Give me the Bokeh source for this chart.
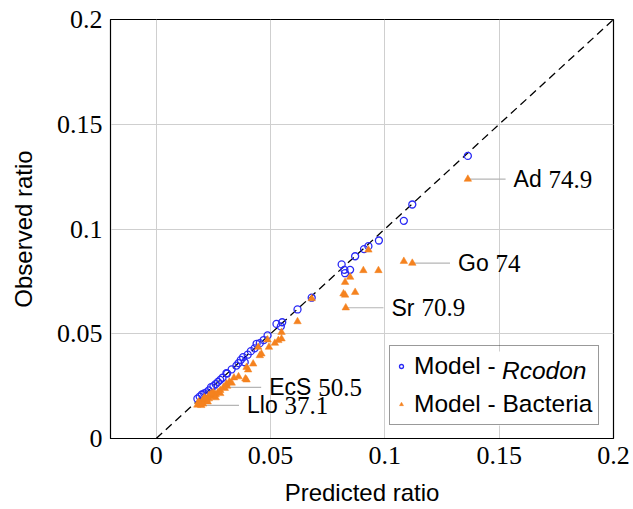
from bokeh.plotting import figure
from bokeh.models import (Range1d, FixedTicker, Legend, LegendItem, Label,
                          BoxAnnotation, ColumnDataSource)
from bokeh.core.properties import value
from bokeh.embed import file_html
from bokeh.resources import INLINE

# Model - Rcodon: predicted vs observed ratio
rcodon_pred = [0.018, 0.019, 0.020, 0.021, 0.022, 0.023, 0.024, 0.025, 0.026,
               0.027, 0.028, 0.029, 0.0307, 0.031, 0.033, 0.0351, 0.036, 0.037,
               0.038, 0.0387, 0.040, 0.0414, 0.043, 0.0439, 0.0453, 0.047,
               0.0487, 0.0526, 0.0545, 0.0551, 0.0618, 0.068, 0.0811, 0.0823,
               0.0848, 0.0826, 0.087, 0.0909, 0.0928, 0.0974, 0.1083, 0.112,
               0.1363]
rcodon_obs = [0.019, 0.020, 0.021, 0.0215, 0.022, 0.023, 0.0245, 0.025, 0.026,
              0.027, 0.028, 0.029, 0.0312, 0.031, 0.033, 0.0348, 0.036, 0.0375,
              0.0388, 0.0364, 0.040, 0.0417, 0.043, 0.0452, 0.0455, 0.047,
              0.0492, 0.0547, 0.0535, 0.0555, 0.0616, 0.0672, 0.0831, 0.0805,
              0.0805, 0.0789, 0.087, 0.0904, 0.0918, 0.0945, 0.1039, 0.1117,
              0.1349]

# Model - Bacteria: predicted vs observed ratio
bact_pred = [0.018, 0.019, 0.0197, 0.020, 0.021, 0.021, 0.022, 0.023, 0.023,
             0.024, 0.025, 0.025, 0.026, 0.027, 0.028, 0.0294, 0.030, 0.031,
             0.0307, 0.032, 0.034, 0.036, 0.039, 0.0395, 0.0402, 0.0395,
             0.0424, 0.0453, 0.046, 0.0446, 0.0493, 0.0487, 0.0519, 0.0534,
             0.0548, 0.0548, 0.0618, 0.068, 0.0819, 0.0826, 0.087, 0.0829,
             0.0826, 0.0848, 0.0906, 0.0972, 0.0928, 0.1083, 0.112, 0.1363,
             0.0185, 0.0205, 0.0215, 0.0225, 0.024, 0.026, 0.028, 0.033]
bact_obs = [0.016, 0.017, 0.0158, 0.0175, 0.018, 0.0195, 0.0185, 0.019, 0.0205,
            0.020, 0.0205, 0.022, 0.021, 0.022, 0.023, 0.0244, 0.024, 0.025,
            0.0261, 0.027, 0.029, 0.0295, 0.0285, 0.028, 0.0328, 0.034,
            0.0356, 0.0396, 0.0404, 0.0436, 0.0436, 0.0471, 0.0455, 0.0468,
            0.0476, 0.0507, 0.0558, 0.0668, 0.0691, 0.0685, 0.0698, 0.0624,
            0.0746, 0.0770, 0.0802, 0.0802, 0.0900, 0.0846, 0.0837, 0.1238,
            0.0175, 0.0165, 0.019, 0.0175, 0.0215, 0.0195, 0.0215, 0.0265]

# Annotated bacteria points: name, value, predicted, observed
ann_name = ["Ad", "Go", "Sr", "EcS", "Llo"]
ann_val = ["74.9", "74", "70.9", "50.5", "37.1"]
ann_pred = [0.1363, 0.112, 0.0829, 0.0294, 0.0197]
ann_obs = [0.1238, 0.0837, 0.0624, 0.0244, 0.0158]

ticks = [0, 0.05, 0.1, 0.15, 0.2]
tick_text = ["0", "0.05", "0.1", "0.15", "0.2"]

SANS = "Liberation Sans"
SERIF = "Liberation Serif"
BLUE = "#2a2af5"
ORANGE = "#f5821f"

X0, X1, Y0, Y1 = -0.02, 0.2, 0.0, 0.2
FRAME_W, FRAME_H = 503, 419


def sx(px):
    """frame pixel offset from the left edge -> x data value"""
    return X0 + px / FRAME_W * (X1 - X0)


def sy(px):
    """frame pixel offset from the bottom edge -> y data value"""
    return Y0 + px / FRAME_H * (Y1 - Y0)


p = figure(width=633, height=509, output_backend="svg", toolbar_location=None,
           x_range=Range1d(X0, X1), y_range=Range1d(Y0, Y1),
           min_border_left=110, min_border_right=20, min_border_top=19,
           min_border_bottom=71)
p.background_fill_color = "white"
p.border_fill_color = "white"
p.outline_line_color = "black"
p.outline_line_width = 1.2

for ax in (p.xaxis[0], p.yaxis[0]):
    ax.ticker = FixedTicker(ticks=ticks)
    ax.major_label_overrides = {t: s for t, s in zip(ticks, tick_text)}
    ax.major_label_text_font = SERIF
    ax.major_label_text_font_size = "26px"
    ax.major_label_text_color = "black"
    ax.axis_label_text_font = SANS
    ax.axis_label_text_font_size = "24px"
    ax.axis_label_text_font_style = "normal"
    ax.axis_label_text_color = "black"
    ax.axis_line_color = "black"
    ax.major_tick_in = 0
    ax.major_tick_out = 0
    ax.minor_tick_line_color = None
    ax.major_label_standoff = 8

p.xaxis.axis_label = "Predicted ratio"
p.yaxis.axis_label = "Observed ratio"
p.xaxis.axis_label_standoff = 12
p.yaxis.axis_label_standoff = 17

p.grid.ticker = FixedTicker(ticks=ticks)
p.grid.grid_line_color = "#cfcfcf"
p.grid.grid_line_width = 1

# identity reference line
p.line([0, 0.2], [0, 0.2], line_color="black", line_width=1.3,
       line_dash="8 5")

# annotation leader lines
lead = 0.0165
seg = ColumnDataSource(dict(x0=ann_pred, y0=ann_obs,
                            x1=[v + lead for v in ann_pred], y1=ann_obs))
p.segment("x0", "y0", "x1", "y1", source=seg, line_color="#b5b5b5",
          line_width=1.2)

r_blue = p.scatter(rcodon_pred, rcodon_obs, marker="circle", size=7,
                   fill_color=None, line_color=BLUE, line_width=1.3)
r_orange = p.scatter(bact_pred, bact_obs, marker="triangle", size=7.5,
                     fill_color=ORANGE, line_color=ORANGE, line_width=0.5)

# annotation texts: sans name followed by serif value
char_w = {"A": 0.667, "d": 0.556, "G": 0.778, "o": 0.556, "S": 0.667,
          "r": 0.333, "E": 0.667, "c": 0.5, "L": 0.556, "l": 0.222}
fs = 23
name_x = [v + lead + 0.0035 for v in ann_pred]
p.text(name_x, ann_obs, text=ann_name, text_font=value(SANS),
       text_font_size=f"{fs}px", text_baseline="middle", text_align="left",
       text_color="black")
for nm, val, x, y in zip(ann_name, ann_val, name_x, ann_obs):
    w = sum(char_w[c] for c in nm) * fs + 0.3 * fs
    p.text([x], [y], text=[val], text_font=value(SERIF),
           text_font_size=f"{fs + 2}px", text_baseline="middle",
           text_align="left", text_color="black", x_offset=w)

# legend geometry (pixels, relative to the frame's lower-left corner)
leg_fs = 24.5
leg_pad, leg_glyph, leg_stand = 6, 10, 8
row_h, row_gap = 26, 10
leg_x, leg_y, leg_w = 279, 13, 213
leg_h = 2 * leg_pad + 2 * row_h + row_gap

# opaque white panel behind the legend (hides the grid there)
panel = BoxAnnotation(left=sx(leg_x), right=sx(leg_x + leg_w),
                      bottom=sy(leg_y), top=sy(leg_y + leg_h),
                      fill_color="white", fill_alpha=1, line_color=None,
                      level="underlay")
p.add_layout(panel)

legend = Legend(items=[LegendItem(label="Model - ", renderers=[r_blue]),
                       LegendItem(label="Model - Bacteria",
                                  renderers=[r_orange])],
                location=(leg_x, leg_y), orientation="vertical")
legend.label_text_font = SANS
legend.label_text_font_size = f"{leg_fs}px"
legend.label_text_color = "black"
legend.glyph_width = leg_glyph
legend.glyph_height = row_h
legend.label_height = row_h
legend.label_standoff = leg_stand
legend.padding = leg_pad
legend.spacing = row_gap
legend.margin = 0
legend.border_line_color = "#333333"
legend.border_line_width = 1.2
legend.background_fill_alpha = 0
p.add_layout(legend, "center")

# italic part of the first legend entry, placed right after "Model - "
prefix_w = sum([0.833, 0.556, 0.556, 0.556, 0.222, 0.278, 0.333, 0.278]) * leg_fs
text_px = leg_x + leg_pad + leg_glyph + leg_stand + prefix_w
row1_px = leg_y + leg_h - leg_pad - row_h / 2
lbl = Label(x=sx(text_px), y=sy(row1_px), text="Rcodon", text_font=SANS,
            text_font_size=f"{leg_fs}px", text_font_style="italic",
            text_baseline="middle", text_color="black")
p.add_layout(lbl)

open("out.html", "w").write(file_html(p, INLINE))
